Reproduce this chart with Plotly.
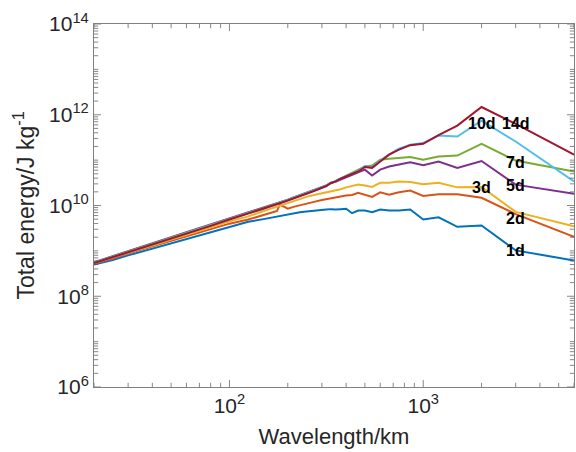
import numpy as np
import plotly.graph_objects as go

# Wavelength (km) sample points
wavelength = [20, 25, 30, 40, 50, 60, 80, 100, 125, 150, 176, 182, 200, 214, 231, 250,
              273, 300, 316, 333, 353, 375, 400, 429, 462, 500, 545, 600, 667, 750, 857,
              1000, 1200, 1500, 2000, 3000, 6000]

# Total energy as log10(J kg^-1)
log_e_1d = [8.70, 8.80, 8.90, 9.05, 9.17, 9.26, 9.42, 9.54, 9.64, 9.70, 9.76, 9.77, 9.80, 9.83,
            9.85, 9.87, 9.88, 9.90, 9.91, 9.92, 9.91, 9.92, 9.93, 9.83, 9.89, 9.89, 9.85, 9.91,
            9.89, 9.89, 9.91, 9.69, 9.74, 9.53, 9.56, 9.01, 8.79]
log_e_2d = [8.72, 8.83, 8.94, 9.09, 9.22, 9.32, 9.48, 9.60, 9.69, 9.80, 9.88, 10.02, 9.93, 9.97,
            10.01, 10.04, 10.08, 10.12, 10.14, 10.17, 10.18, 10.20, 10.22, 10.23, 10.28, 10.24,
            10.19, 10.29, 10.24, 10.29, 10.33, 10.21, 10.25, 10.25, 10.17, 9.81, 9.31]
log_e_3d = [8.73, 8.85, 8.96, 9.12, 9.25, 9.36, 9.52, 9.65, 9.76, 9.88, 9.98, 10.00, 10.06, 10.10,
            10.15, 10.19, 10.23, 10.27, 10.29, 10.32, 10.33, 10.36, 10.40, 10.43, 10.46, 10.44,
            10.41, 10.50, 10.50, 10.53, 10.52, 10.47, 10.50, 10.40, 10.41, 9.86, 9.54]
log_e_5d = [8.75, 8.88, 8.99, 9.16, 9.30, 9.41, 9.58, 9.72, 9.85, 9.95, 10.05, 10.07, 10.13, 10.18,
            10.23, 10.28, 10.34, 10.40, 10.44, 10.50, 10.52, 10.57, 10.62, 10.68, 10.73, 10.79,
            10.66, 10.79, 10.86, 10.90, 10.95, 10.89, 10.97, 10.83, 10.98, 10.46, 10.26]
log_e_7d = [8.74, 8.87, 8.98, 9.15, 9.29, 9.40, 9.57, 9.71, 9.84, 9.94, 10.04, 10.06, 10.12, 10.17,
            10.22, 10.27, 10.33, 10.39, 10.43, 10.49, 10.53, 10.60, 10.66, 10.72, 10.78, 10.86,
            10.88, 11.01, 11.03, 11.05, 11.07, 11.01, 11.08, 11.10, 11.36, 10.99, 10.75]
log_e_10d = [8.74, 8.86, 8.97, 9.14, 9.28, 9.39, 9.56, 9.70, 9.83, 9.93, 10.04, 10.06, 10.12, 10.17,
             10.22, 10.27, 10.33, 10.39, 10.44, 10.50, 10.54, 10.60, 10.65, 10.69, 10.76, 10.87,
             10.85, 10.99, 11.13, 11.25, 11.34, 11.38, 11.54, 11.52, 11.87, 11.41, 10.53]
log_e_14d = [8.73, 8.86, 8.97, 9.14, 9.27, 9.38, 9.55, 9.69, 9.82, 9.92, 10.03, 10.05, 10.11, 10.16,
             10.21, 10.26, 10.32, 10.38, 10.43, 10.49, 10.53, 10.59, 10.64, 10.68, 10.75, 10.85,
             10.83, 10.97, 11.12, 11.23, 11.33, 11.36, 11.55, 11.76, 12.17, 11.80, 11.12]

series_names = ["1d", "2d", "3d", "5d", "7d", "10d", "14d"]
series_logs = [log_e_1d, log_e_2d, log_e_3d, log_e_5d, log_e_7d, log_e_10d, log_e_14d]
series_colors = ["#0072BD", "#D95319", "#EDB120", "#7E2F8E", "#77AC30", "#4DBEEE", "#A2142F"]

# Label anchor points (wavelength km, energy J/kg)
label_wavelength = [3000, 3000, 2000, 3000, 3000, 2000, 3000]
label_energy = [1.0e9, 5.1e9, 2.45e10, 2.8e10, 8.7e10, 6.3e11, 6.3e11]

# Labelled tick exponents
y_label_exponents = [6, 8, 10, 12, 14]
x_label_exponents = [2, 3]

FONT = "Arial, Liberation Sans, sans-serif"
TICK_COLOR = "#555555"
X_MIN, X_MAX = 20, 6000
Y_MIN, Y_MAX = 1e6, 1e14

# Log-axis tick positions: (value, is_major)
y_ticks = []
for n in range(6, 14):
    for d in range(1, 10):
        y_ticks.append((d * 10.0 ** n, d == 1 and n in y_label_exponents))
y_ticks.append((1e14, True))
x_ticks = []
for n in range(1, 4):
    for d in range(1, 10):
        v = d * 10.0 ** n
        if X_MIN <= v <= X_MAX:
            x_ticks.append((v, d == 1 and n in x_label_exponents))

fig = go.Figure()
for name, logs, col in zip(series_names, series_logs, series_colors):
    fig.add_trace(go.Scatter(
        x=wavelength, y=np.power(10.0, logs), mode="lines", name=name,
        line=dict(color=col, width=2), showlegend=False, hoverinfo="skip"))

# Inside tick marks on all four sides: centred line markers clipped by the axes box
xt_vals = [v for v, _ in x_ticks]
xt_size = [10 if m else 6 for _, m in x_ticks]
yt_vals = [v for v, _ in y_ticks]
yt_size = [10 if m else 6 for _, m in y_ticks]
for yy in (Y_MIN, Y_MAX):
    fig.add_trace(go.Scatter(x=xt_vals, y=[yy] * len(xt_vals), mode="markers", showlegend=False,
                             hoverinfo="skip", cliponaxis=True,
                             marker=dict(symbol="line-ns", size=xt_size, color=TICK_COLOR,
                                         line=dict(width=1, color=TICK_COLOR))))
for xx in (X_MIN, X_MAX):
    fig.add_trace(go.Scatter(x=[xx] * len(yt_vals), y=yt_vals, mode="markers", showlegend=False,
                             hoverinfo="skip", cliponaxis=True,
                             marker=dict(symbol="line-ew", size=yt_size, color=TICK_COLOR,
                                         line=dict(width=1, color=TICK_COLOR))))

for name, lw, le in zip(series_names, label_wavelength, label_energy):
    fig.add_annotation(x=np.log10(lw), y=np.log10(le), xref="x", yref="y", text="<b>%s</b>" % name,
                       showarrow=False, font=dict(size=16, color="black", family=FONT))

axis_common = dict(
    showline=True, linecolor="#808080", linewidth=1, mirror=True,
    ticks="", showgrid=False, zeroline=False, automargin=False, tickmode="array",
    tickfont=dict(size=21, color="#262626", family=FONT),
)

fig.update_xaxes(type="log", range=[np.log10(X_MIN), np.log10(X_MAX)],
                 tickvals=[10.0 ** e for e in x_label_exponents],
                 ticktext=["10<sup>%d</sup>" % e for e in x_label_exponents],
                 title=dict(text="Wavelength/km", standoff=12,
                            font=dict(size=22, color="#262626", family=FONT)),
                 **axis_common)
fig.update_yaxes(type="log", range=[np.log10(Y_MIN), np.log10(Y_MAX)],
                 tickvals=[10.0 ** e for e in y_label_exponents],
                 ticktext=["10<sup>%d</sup>" % e for e in y_label_exponents],
                 title=dict(text="Total energy/J kg<sup>-1</sup>", standoff=8,
                            font=dict(size=23, color="#262626", family=FONT)),
                 **axis_common)

fig.update_layout(width=576, height=452, plot_bgcolor="white", paper_bgcolor="white",
                  margin=dict(l=94, r=2, t=24, b=65))

fig.write_html("out.html", config={"displayModeBar": False},
               post_script="document.body.style.margin='0';document.body.style.padding='0';"
                           "document.body.style.overflow='hidden';")
